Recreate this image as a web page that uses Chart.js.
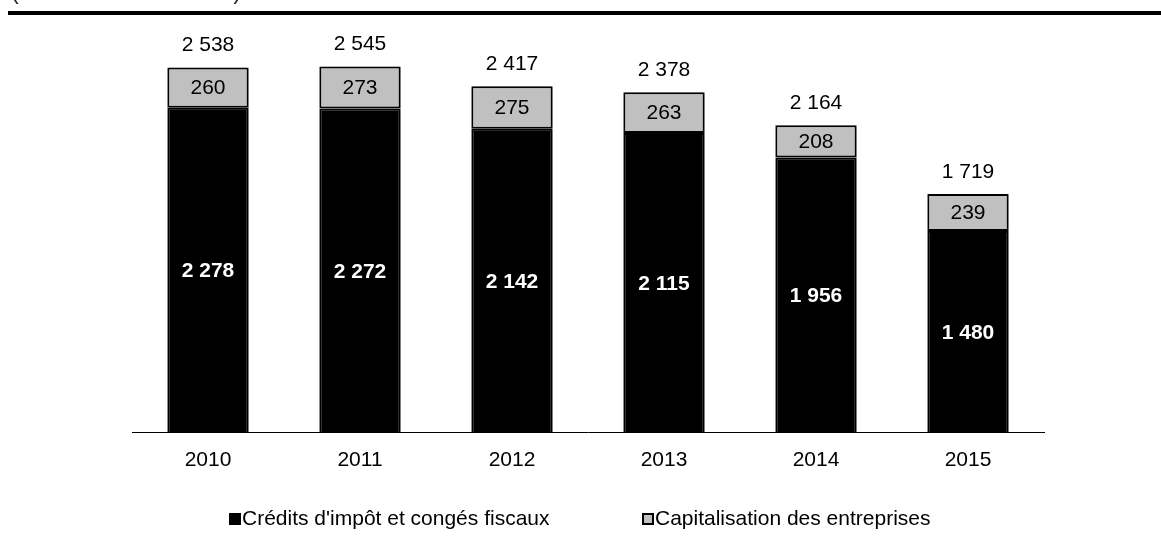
<!DOCTYPE html>
<html>
<head>
<meta charset="utf-8">
<script src="https://cdn.jsdelivr.net/npm/chart.js@4"></script>
<style>
  html, body { margin: 0; padding: 0; background: #fff; }
  body { width: 1161px; height: 550px; position: relative; overflow: hidden; font-family: "Liberation Sans", Arial, sans-serif; }
  #wrap { position: absolute; left: 0; top: 0; width: 1161px; height: 550px; }
  #unit { position: absolute; left: 11px; top: -21px; font-size: 23px; line-height: 25px; color: #222; white-space: nowrap; }
  #rule { position: absolute; left: 8px; top: 11px; width: 1153px; height: 4px; background: #000; }
  .legtxt { position: absolute; top: 506px; font-size: 21px; line-height: 24px; color: #000; white-space: nowrap; }
  .box { position: absolute; top: 513px; width: 12px; height: 12px; box-sizing: border-box; }
</style>
</head>
<body>
<div id="wrap"><canvas id="c" width="1161" height="550"></canvas></div>
<div id="unit">(en millions de dollars)</div>
<div id="rule"></div>
<div class="box" style="left:229px;background:#000"></div>
<div class="legtxt" id="leg1" style="left:242px"></div>
<div class="box" style="left:642px;background:#c0c0c0;border:2px solid #000"></div>
<div class="legtxt" id="leg2" style="left:655px"></div>
<script>
const categories = ["2010", "2011", "2012", "2013", "2014", "2015"];
const credits = [2278, 2272, 2142, 2115, 1956, 1480];
const capitalisation = [260, 273, 275, 263, 208, 239];
const seriesNames = ["Crédits d'impôt et congés fiscaux", "Capitalisation des entreprises"];

document.getElementById('leg1').textContent = seriesNames[0];
document.getElementById('leg2').textContent = seriesNames[1];

const FONT = '"Liberation Sans", Arial, sans-serif';
const fmt = v => String(Math.round(v)).replace(/\B(?=(\d{3})+(?!\d))/g, " ");

const shadowPlugin = {
  id: 'shadow',
  beforeDatasetsDraw(chart) {
    const ctx = chart.ctx;
    ctx.save();
    ctx.shadowColor = 'rgba(0,0,0,0.25)';
    ctx.shadowBlur = 4;
    ctx.shadowOffsetX = 2;
    ctx.shadowOffsetY = 1;
  },
  afterDatasetsDraw(chart) {
    chart.ctx.restore();
  }
};

const labelPlugin = {
  id: 'labels',
  afterDatasetsDraw(chart) {
    const ctx = chart.ctx;
    const area = chart.chartArea;
    ctx.save();
    ctx.textAlign = 'center';
    ctx.textBaseline = 'middle';
    chart.data.datasets.forEach((ds, di) => {
      const meta = chart.getDatasetMeta(di);
      meta.data.forEach((bar, i) => {
        const top = bar.y;
        const base = Math.min(bar.base, area.bottom);
        const cy = (top + base) / 2;
        if (di === 0) {
          ctx.fillStyle = '#fff';
          ctx.font = 'bold 21px ' + FONT;
        } else {
          ctx.fillStyle = '#000';
          ctx.font = '21px ' + FONT;
        }
        ctx.fillText(fmt(ds.data[i]), bar.x, cy + 1);
      });
    });
    const lastMeta = chart.getDatasetMeta(chart.data.datasets.length - 1);
    ctx.fillStyle = '#000';
    ctx.font = '21px ' + FONT;
    lastMeta.data.forEach((bar, i) => {
      const total = credits[i] + capitalisation[i];
      ctx.fillText(fmt(total), bar.x, bar.y - 22);
    });
    ctx.restore();
  }
};

new Chart(document.getElementById('c'), {
  type: 'bar',
  data: {
    labels: categories,
    datasets: [
      { label: seriesNames[0], data: credits, backgroundColor: '#000', borderColor: '#000', borderWidth: 2, borderSkipped: false },
      { label: seriesNames[1], data: capitalisation, backgroundColor: '#c0c0c0', borderColor: '#000', borderWidth: 2, borderSkipped: false }
    ]
  },
  options: {
    responsive: false,
    animation: false,
    devicePixelRatio: 1,
    layout: { padding: { left: 132, right: 117, top: 27, bottom: 62 } },
    plugins: { legend: { display: false }, tooltip: { enabled: false } },
    datasets: { bar: { categoryPercentage: 0.535, barPercentage: 1 } },
    scales: {
      x: {
        stacked: true,
        grid: { display: false, drawTicks: false },
        border: { display: true, color: '#000', width: 1 },
        ticks: { color: '#000', padding: 15, font: { size: 21, family: FONT } }
      },
      y: {
        stacked: true,
        display: false,
        min: 175,
        max: 2800
      }
    }
  },
  plugins: [shadowPlugin, labelPlugin]
});
</script>
</body>
</html>
